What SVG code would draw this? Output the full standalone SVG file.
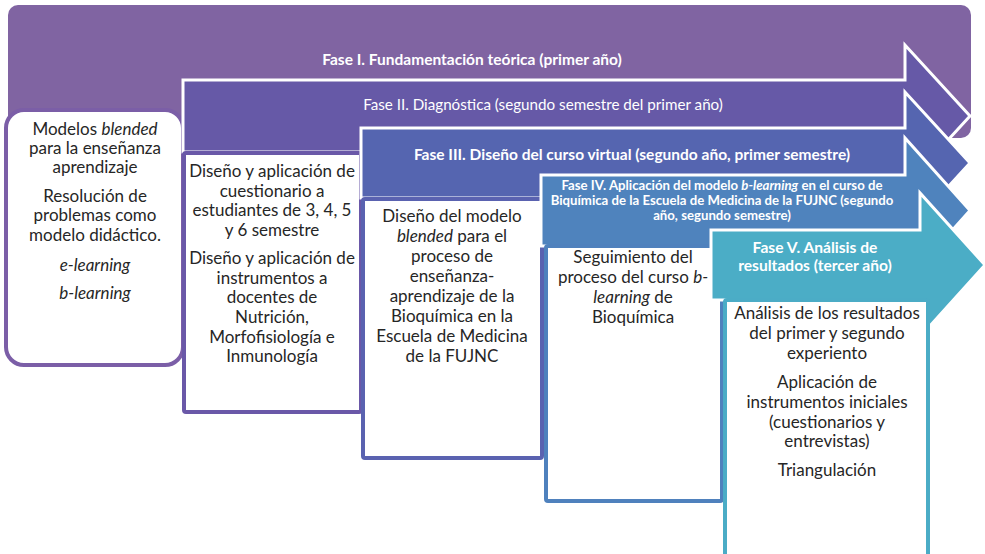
<svg xmlns="http://www.w3.org/2000/svg" width="985" height="554" viewBox="0 0 985 554">
<style>
.arrow{stroke:#ffffff;stroke-width:3;stroke-linejoin:miter}
.box{fill:#ffffff;stroke-width:4}
.hd{font-family:Lato,"Open Sans","Liberation Sans",sans-serif;fill:#ffffff;text-anchor:middle;font-weight:bold}
.bt{font-family:Lato,"Open Sans","Liberation Sans",sans-serif;fill:#262626;text-anchor:middle;font-size:17px}
.it{font-style:italic}
</style>
<rect width="985" height="554" fill="#ffffff"/>
<g id="fase1">
<rect x="8" y="5" width="963" height="133" rx="10" fill="#8064A2"/>
<text class="hd" x="472" y="65" font-size="15.5">Fase I. Fundamentación teórica (primer año)</text>
</g>
<g id="box1">
<rect class="box" x="6" y="110" width="177" height="255" rx="18" stroke="#7B5EA7"/>
<text class="bt" x="95" y="135">Modelos <tspan class="it">blended</tspan></text>
<text class="bt" x="95" y="154">para la enseñanza</text>
<text class="bt" x="95" y="173">aprendizaje</text>
<text class="bt" x="95" y="202">Resolución de</text>
<text class="bt" x="95" y="221">problemas como</text>
<text class="bt" x="95" y="241">modelo didáctico.</text>
<text class="bt it" x="95" y="271">e-learning</text>
<text class="bt it" x="95" y="299">b-learning</text>
</g>
<g id="fase2">
<path class="arrow" d="M183,80 H905 V45 L970,116 L905,187 V152 H183 Z" fill="#6659A7"/>
<text x="543" y="110" font-size="15.2" class="hd" style="font-weight:normal">Fase II. Diagnóstica (segundo semestre del primer año)</text>
</g>
<g id="box2">
<rect class="box" x="184" y="153" width="177" height="259" rx="2" stroke="#6A58A8"/>
<text class="bt" x="272" y="177">Diseño y aplicación de</text>
<text class="bt" x="272" y="197">cuestionario a</text>
<text class="bt" x="272" y="216">estudiantes de 3, 4, 5</text>
<text class="bt" x="272" y="236">y 6 semestre</text>
<text class="bt" x="272" y="264">Diseño y aplicación de</text>
<text class="bt" x="272" y="284">instrumentos a</text>
<text class="bt" x="272" y="303">docentes de</text>
<text class="bt" x="272" y="323">Nutrición,</text>
<text class="bt" x="272" y="343">Morfofisiología e</text>
<text class="bt" x="272" y="362">Inmunología</text>
</g>
<g id="fase3">
<path class="arrow" d="M361,128 H905 V92 L970,163 L905,234 V198 H361 Z" fill="#5565B0"/>
<text class="hd" x="632" y="160" font-size="15.5">Fase III. Diseño del curso virtual (segundo año, primer semestre)</text>
</g>
<g id="box3">
<rect class="box" x="363" y="199" width="179" height="259" rx="2" stroke="#5A62B0"/>
<text class="bt" x="452" y="222">Diseño del modelo</text>
<text class="bt" x="452" y="242"><tspan class="it">blended</tspan> para el</text>
<text class="bt" x="452" y="262">proceso de</text>
<text class="bt" x="452" y="282">enseñanza-</text>
<text class="bt" x="452" y="302">aprendizaje de la</text>
<text class="bt" x="452" y="322">Bioquímica en la</text>
<text class="bt" x="452" y="342">Escuela de Medicina</text>
<text class="bt" x="452" y="362">de la FUJNC</text>
</g>
<g id="fase4">
<path class="arrow" d="M541,175 H905 V138 L970,210.5 L905,283 V246 H541 Z" fill="#4F83BD"/>
<text class="hd" x="722" y="190" font-size="13.2">Fase IV. Aplicación del modelo <tspan class="it">b-learning</tspan> en el curso de</text>
<text class="hd" x="722" y="205" font-size="13.2">Biquímica de la Escuela de Medicina de la FUJNC (segundo</text>
<text class="hd" x="722" y="220" font-size="13.2">año, segundo semestre)</text>
</g>
<g id="box4">
<rect class="box" x="546" y="246" width="176" height="255" rx="2" stroke="#4F81BD"/>
<text class="bt" x="633" y="263">Seguimiento del</text>
<text class="bt" x="633" y="283">proceso del curso <tspan class="it">b-</tspan></text>
<text class="bt" x="633" y="303"><tspan class="it">learning</tspan> de</text>
<text class="bt" x="633" y="323">Bioquímica</text>
</g>
<g id="fase5">
<path class="arrow" d="M711,230 H920 V193 L985,265 L920,337 V300 H711 Z" fill="#4BADC6"/>
<text class="hd" x="815" y="253" font-size="15.6">Fase V. Análisis de</text>
<text class="hd" x="815" y="271" font-size="15.6">resultados (tercer año)</text>
</g>
<g id="box5">
<rect class="box" x="725" y="300" width="203" height="280" rx="2" stroke="#4BACC6"/>
<text class="bt" x="827" y="319">Análisis de los resultados</text>
<text class="bt" x="827" y="339">del primer y segundo</text>
<text class="bt" x="827" y="359">experiento</text>
<text class="bt" x="827" y="388">Aplicación de</text>
<text class="bt" x="827" y="408">instrumentos iniciales</text>
<text class="bt" x="827" y="428">(cuestionarios y</text>
<text class="bt" x="827" y="447">entrevistas)</text>
<text class="bt" x="827" y="476">Triangulación</text>
</g>
<g id="connectors"></g>
</svg>
